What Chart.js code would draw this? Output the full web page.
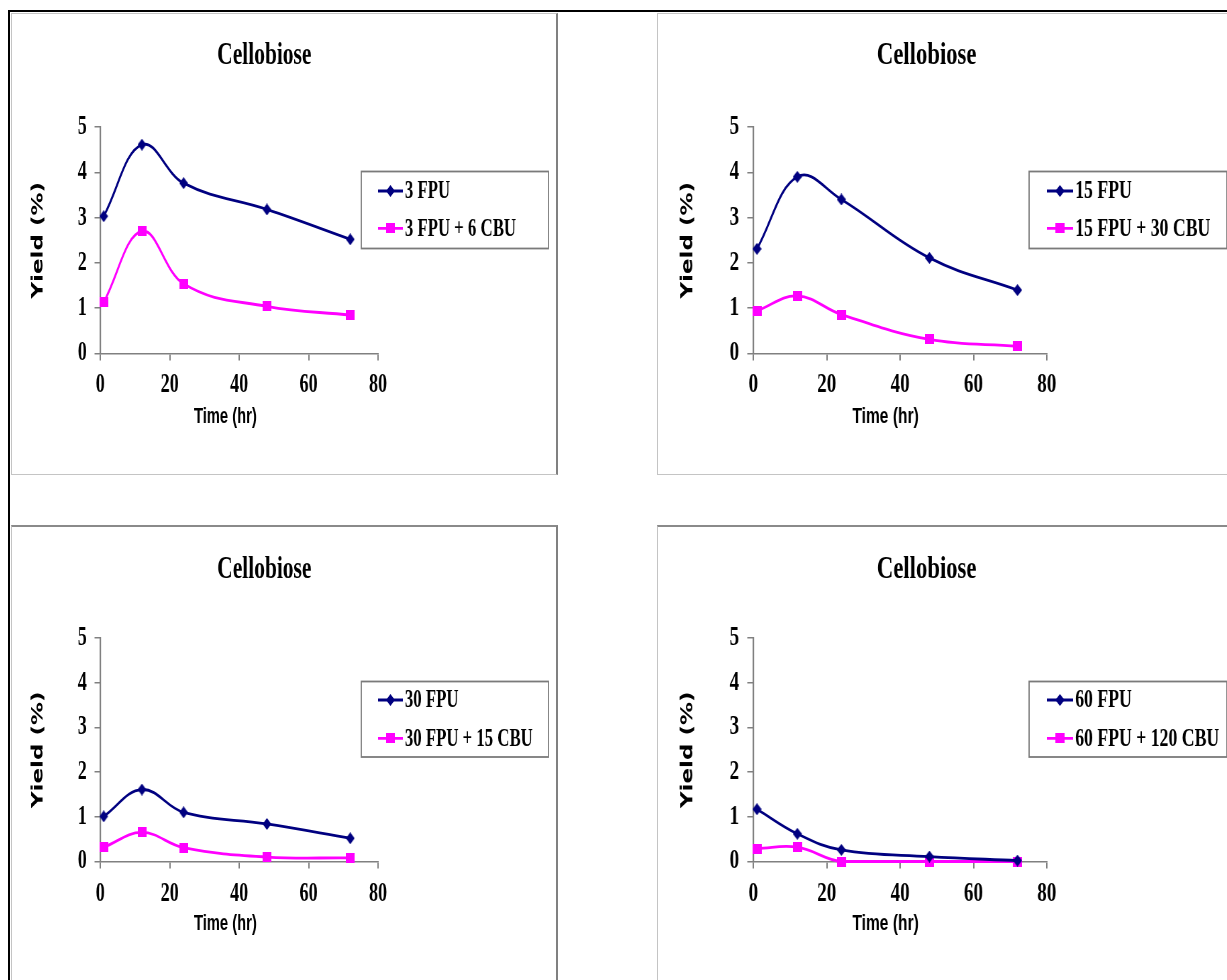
<!DOCTYPE html>
<html>
<head>
<meta charset="utf-8">
<title>Cellobiose yield</title>
<script src="https://cdn.jsdelivr.net/npm/chart.js@4.4.1/dist/chart.umd.min.js"></script>
<style>
	html, body { margin: 0; padding: 0; background: #fff; }
	body { position: relative; width: 1227px; height: 980px; overflow: hidden; }
	.frame { position: absolute; left: 8px; top: 9.5px; width: 1400px; height: 1200px;
		border-top: 2px solid #000; border-left: 2px solid #000; }
	.panel { position: absolute; box-sizing: border-box; border: 1.5px solid #c4c4c4; background: #fff; }
	.panel.rightEdge { border-right: 2px solid #808080; }
	.panel.lowRow { border-top: 2px solid #8a8a8a; }
	.squeeze { position: absolute; transform-origin: 0 0; }
	canvas { display: block; }
</style>
</head>
<body>
<div class="frame"></div>
<div class="panel rightEdge" style="left:10.5px; top:12.5px; width:547.2px; height:462px;"></div>
<div class="panel" style="left:657px; top:12.5px; width:600px; height:462px;"></div>
<div class="panel rightEdge lowRow" style="left:10.5px; top:524.5px; width:547.2px; height:500px;"></div>
<div class="panel lowRow" style="left:657px; top:524.5px; width:600px; height:500px;"></div>

<script>
// shared axis data
const timeHours = [1, 12, 24, 48, 72];
const xTicks = [0, 20, 40, 60, 80];
const yTicks = [0, 1, 2, 3, 4, 5];
const chartTitle = "Cellobiose";
const xAxisTitle = "Time (hr)";
const yAxisTitle = "Yield (%)";

// 3 FPU panel
const labels3 = ["3 FPU", "3 FPU + 6 CBU"];
const yield3 = [3.03, 4.61, 3.76, 3.18, 2.52];
const yield3Cbu = [1.13, 2.70, 1.54, 1.04, 0.85];

// 15 FPU panel
const labels15 = ["15 FPU", "15 FPU + 30 CBU"];
const yield15 = [2.31, 3.90, 3.40, 2.11, 1.40];
const yield15Cbu = [0.94, 1.27, 0.86, 0.31, 0.16];

// 30 FPU panel
const labels30 = ["30 FPU", "30 FPU + 15 CBU"];
const yield30 = [1.01, 1.61, 1.10, 0.84, 0.52];
const yield30Cbu = [0.32, 0.65, 0.31, 0.10, 0.08];

// 60 FPU panel
const labels60 = ["60 FPU", "60 FPU + 120 CBU"];
const yield60 = [1.17, 0.62, 0.26, 0.11, 0.02];
const yield60Cbu = [0.29, 0.32, 0.00, 0.00, 0.00];

const navy = "#000080";
const magenta = "#ff00ff";

// canvas size before the horizontal squeeze (the source picture is narrowed)
const W = 814;
const H = 460;

const rows = [
	{ pageTop: 14, areaTop: 113, areaBottom: 339.5, titleY: 50, xTitleY: 409, legTop: 157.5, legBottom: 234.5, legRows: [177, 214.3], tickPad: 9 },
	{ pageTop: 526, areaTop: 112, areaBottom: 335.5, titleY: 51.5, xTitleY: 404, legTop: 155.5, legBottom: 231, legRows: [174, 212.3], tickPad: 10 }
];
const cols = [
	{ x0: 11.1, s: 0.671 },
	{ x0: 659, s: 0.709 }
];

function makeMarker(kind, color) {
	var c = document.createElement("canvas");
	c.width = 13;
	c.height = kind === "diamond" ? 12 : 10;
	var g = c.getContext("2d");
	g.fillStyle = color;
	if (kind === "diamond") {
		g.beginPath();
		g.moveTo(6.5, 0);
		g.lineTo(13, 6);
		g.lineTo(6.5, 12);
		g.lineTo(0, 6);
		g.closePath();
		g.fill();
	} else {
		g.fillRect(0, 0, 13, 10);
	}
	return c;
}

const diamond = makeMarker("diamond", navy);
const square = makeMarker("square", magenta);

function toPoints(values) {
	return timeHours.map(function(t, i) { return { x: t, y: values[i] }; });
}

// title, x axis title and the boxed legend
const panelDecor = {
	id: "panelDecor",
	afterDraw: function(chart, args, opts) {
		var ctx = chart.ctx;
		ctx.save();
		ctx.fillStyle = "#000";
		ctx.textAlign = "center";
		ctx.textBaseline = "alphabetic";
		ctx.font = "bold 32px 'Liberation Serif'";
		ctx.fillText(chartTitle, 377.5, opts.titleY);
		ctx.font = "bold 22px 'Liberation Sans'";
		ctx.fillText(xAxisTitle, 319.5, opts.xTitleY);

		var left = 522, right = 801;
		ctx.fillStyle = "#fff";
		ctx.fillRect(left, opts.legTop, right - left, opts.legBottom - opts.legTop);
		ctx.strokeStyle = "#7a7a7a";
		ctx.lineWidth = 1.8;
		ctx.strokeRect(left, opts.legTop, right - left, opts.legBottom - opts.legTop);

		ctx.font = "bold 25px 'Liberation Serif'";
		ctx.textAlign = "left";
		ctx.textBaseline = "middle";
		chart.data.datasets.forEach(function(ds, i) {
			var y = opts.legRows[i];
			ctx.strokeStyle = ds.borderColor;
			ctx.lineWidth = 2.8;
			ctx.beginPath();
			ctx.moveTo(547, y);
			ctx.lineTo(584, y);
			ctx.stroke();
			var m = ds.pointStyle;
			ctx.drawImage(m, 565.5 - m.width / 2, y - m.height / 2);
			ctx.fillStyle = "#000";
			ctx.fillText(ds.label, 587, y + 1);
		});
		ctx.restore();
	}
};

function drawPanel(rowIdx, colIdx, labels, fpu, fpuCbu) {
	var row = rows[rowIdx];
	var col = cols[colIdx];

	var box = document.createElement("div");
	box.className = "squeeze";
	box.style.left = col.x0 + "px";
	box.style.top = row.pageTop + "px";
	box.style.width = W + "px";
	box.style.height = H + "px";
	box.style.transform = "scaleX(" + col.s + ")";
	var canvas = document.createElement("canvas");
	canvas.width = W;
	canvas.height = H;
	box.appendChild(canvas);
	document.body.appendChild(box);

	var tickFont = { family: "'Liberation Serif'", size: 27, weight: "bold" };

	new Chart(canvas.getContext("2d"), {
		type: "line",
		data: {
			datasets: [{
				label: labels[0],
				data: toPoints(fpu),
				borderColor: navy,
				backgroundColor: navy,
				borderWidth: 2.8,
				pointStyle: diamond,
				pointRadius: 6,
				tension: 0.4,
				clip: false
			}, {
				label: labels[1],
				data: toPoints(fpuCbu),
				borderColor: magenta,
				backgroundColor: magenta,
				borderWidth: 2.8,
				pointStyle: square,
				pointRadius: 6,
				tension: 0.4,
				clip: false
			}]
		},
		options: {
			responsive: false,
			animation: false,
			devicePixelRatio: 1,
			layout: { padding: { left: 5, right: W - 547, top: row.areaTop, bottom: 0 } },
			plugins: {
				legend: { display: false },
				title: { display: false },
				tooltip: { enabled: false },
				panelDecor: row
			},
			scales: {
				x: {
					type: "linear",
					min: xTicks[0],
					max: xTicks[xTicks.length - 1],
					afterBuildTicks: function(s) { s.ticks = xTicks.map(function(v) { return { value: v }; }); },
					afterFit: function(s) { s.height = H - row.areaBottom; },
					ticks: { font: tickFont, color: "#000", padding: row.tickPad - 1, maxRotation: 0, autoSkip: false },
					grid: { drawOnChartArea: false, drawTicks: true, tickLength: 7, color: "#808080", lineWidth: 2 },
					border: { color: "#808080", width: 1.6 }
				},
				y: {
					min: yTicks[0],
					max: yTicks[yTicks.length - 1],
					afterBuildTicks: function(s) { s.ticks = yTicks.map(function(v) { return { value: v }; }); },
					afterFit: function(s) { s.width = 128; },
					ticks: { font: tickFont, color: "#000", padding: 11.5 },
					grid: { drawOnChartArea: false, drawTicks: true, tickLength: 8.5, color: "#808080", lineWidth: 1.5 },
					border: { color: "#808080", width: 2.2 },
					title: {
						display: true,
						text: yAxisTitle,
						color: "#000",
						font: { family: "'DejaVu Sans'", size: 23, weight: "bold" },
						padding: { top: 22, bottom: 0 }
					}
				}
			}
		},
		plugins: [panelDecor]
	});
}

document.addEventListener("DOMContentLoaded", function() {
	drawPanel(0, 0, labels3, yield3, yield3Cbu);
	drawPanel(0, 1, labels15, yield15, yield15Cbu);
	drawPanel(1, 0, labels30, yield30, yield30Cbu);
	drawPanel(1, 1, labels60, yield60, yield60Cbu);
});
</script>
</body>
</html>
